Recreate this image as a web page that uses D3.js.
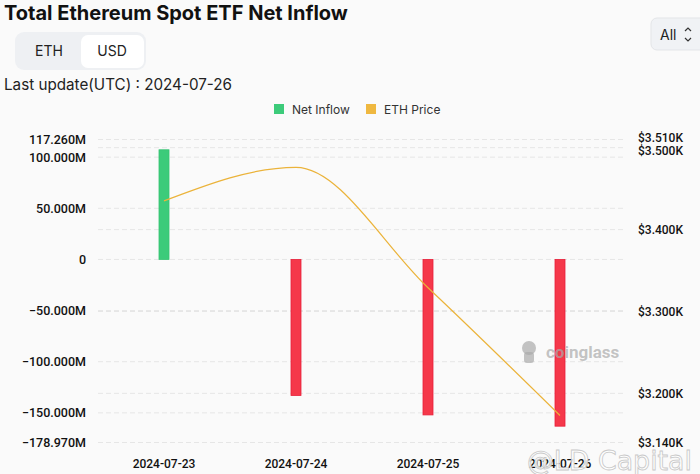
<!DOCTYPE html>
<html>
<head>
<meta charset="utf-8">
<script src="https://cdn.jsdelivr.net/npm/d3@7"></script>
<style>
  html, body { margin: 0; padding: 0; background: #fafafa; }
  svg { display: block; font-family: Inter, "Noto Sans", sans-serif; }
</style>
</head>
<body>
<svg id="chart" width="700" height="474"></svg>
<script>
// data
const dates = ['2024-07-23', '2024-07-24', '2024-07-25', '2024-07-26'];
const netInflow = [107.2, -133.0, -152.0, -163.0];      // million USD
const ethPrice = [3435, 3476, 3329, 3173];               // USD
const leftTicks = [117.26, 100, 50, 0, -50, -100, -150, -178.97];
const rightTicks = [3510, 3500, 3400, 3300, 3200, 3140];

const W = 700, H = 474;
const plot = { left: 98, right: 626, top: 139.5, bottom: 442.5 };

const svg = d3.select('#chart');

svg.append('rect').attr('width', W).attr('height', H).attr('fill', '#fafafa');

// header
svg.append('text')
  .attr('x', 4).attr('y', 20)
  .attr('font-size', 20).attr('font-weight', 700).attr('fill', '#111')
  .text('Total Ethereum Spot ETF Net Inflow');

const toggle = svg.append('g');
toggle.append('rect').attr('x', 15).attr('y', 32).attr('width', 131).attr('height', 38)
  .attr('rx', 9).attr('fill', '#eef0f3');
toggle.append('rect').attr('x', 81).attr('y', 35).attr('width', 63).attr('height', 33)
  .attr('rx', 7).attr('fill', '#ffffff');
toggle.append('text').attr('x', 49).attr('y', 56).attr('text-anchor', 'middle')
  .attr('font-size', 14).attr('fill', '#222').text('ETH');
toggle.append('text').attr('x', 112).attr('y', 56).attr('text-anchor', 'middle')
  .attr('font-size', 14).attr('fill', '#222').text('USD');

svg.append('text').attr('x', 4).attr('y', 90)
  .attr('font-size', 15.5).attr('fill', '#222')
  .attr('textLength', 228).attr('lengthAdjust', 'spacingAndGlyphs')
  .text('Last update(UTC) : 2024-07-26');

// "All" select box
svg.append('rect').attr('x', 651).attr('y', 18).attr('width', 56).attr('height', 32)
  .attr('rx', 6).attr('fill', '#f0f2f5').attr('stroke', '#e3e5e8');
svg.append('text').attr('x', 660).attr('y', 40).attr('font-size', 14).attr('fill', '#222').text('All');
svg.append('path').attr('d', 'M685,31 l3,-3 l3,3 M685,38 l3,3 l3,-3')
  .attr('fill', 'none').attr('stroke', '#333').attr('stroke-width', 1.2);

// legend
const legend = [
  { label: 'Net Inflow', color: '#3ccb7a', x: 274 },
  { label: 'ETH Price', color: '#efb840', x: 366 }
];
legend.forEach(d => {
  svg.append('rect').attr('x', d.x).attr('y', 104).attr('width', 10).attr('height', 10)
    .attr('fill', d.color);
  svg.append('text').attr('x', d.x + 18).attr('y', 113.5)
    .attr('font-size', 12).attr('fill', '#333').text(d.label);
});

// scales
const x = d3.scaleBand().domain(dates).range([plot.left, plot.right]);
const yLeft = d3.scaleLinear().domain([-178.97, 117.26]).range([plot.bottom, plot.top]);
const yRight = d3.scaleLinear().domain([3140, 3510]).range([plot.bottom, plot.top]);

// grid lines from both axes
const grid = svg.append('g');
leftTicks.forEach(t => grid.append('line')
  .attr('x1', plot.left).attr('x2', plot.right)
  .attr('y1', yLeft(t)).attr('y2', yLeft(t)));
rightTicks.forEach(t => grid.append('line')
  .attr('x1', plot.left).attr('x2', plot.right)
  .attr('y1', yRight(t)).attr('y2', yRight(t)));
grid.selectAll('line').attr('stroke', '#e6e6e6').attr('stroke-dasharray', '5,3');

// axes
const fmtM = v => v === 0 ? '0' : d3.format('.3f')(v) + 'M';
const fmtK = v => '$' + d3.format('.3f')(v / 1000) + 'K';

const axisL = svg.append('g').attr('transform', `translate(${plot.left - 9},0)`)
  .call(d3.axisLeft(yLeft).tickValues(leftTicks).tickFormat(fmtM).tickSize(0));
const axisR = svg.append('g').attr('transform', `translate(${plot.right + 9},0)`)
  .call(d3.axisRight(yRight).tickValues(rightTicks).tickFormat(fmtK).tickSize(0));
const axisB = svg.append('g').attr('transform', `translate(0,${plot.bottom + 14})`)
  .call(d3.axisBottom(x).tickSize(0));

[axisL, axisR, axisB].forEach(a => {
  a.select('.domain').remove();
  a.selectAll('text').attr('font-family', 'Roboto, "DejaVu Sans", sans-serif')
    .attr('font-size', 12).attr('font-weight', 500).attr('fill', '#111');
});
axisL.selectAll('text').attr('dx', 0).attr('font-size', 12.5);
axisR.selectAll('text').attr('dx', 0);
// top right labels sit a bit apart in the original
axisR.selectAll('.tick').filter(d => d === 3510).select('text').attr('dy', '0.2em');
axisR.selectAll('.tick').filter(d => d === 3500).select('text').attr('dy', '0.6em');

// bars
const barW = 10;
svg.append('g').selectAll('rect')
  .data(netInflow)
  .enter().append('rect')
  .attr('x', (d, i) => x(dates[i]) + x.bandwidth() / 2 - barW / 2)
  .attr('y', d => yLeft(Math.max(0, d)))
  .attr('width', barW)
  .attr('height', d => Math.abs(yLeft(d) - yLeft(0)))
  .attr('fill', d => d >= 0 ? '#3ccb7a' : '#f5384a')
  .attr('stroke', d => d >= 0 ? '#36c472' : '#e8203a')
  .attr('stroke-width', 0.8);

// coinglass watermark, drawn over the bars
const wm = svg.append('g').attr('fill', 'rgba(170,170,170,0.7)');
wm.append('circle').attr('cx', 529).attr('cy', 348).attr('r', 7);
wm.append('rect').attr('x', 524).attr('y', 352).attr('width', 10).attr('height', 11).attr('rx', 3);
wm.append('text').attr('x', 546).attr('y', 358).attr('font-size', 17).attr('font-weight', 700)
  .attr('font-family', 'Roboto, sans-serif').text('coinglass');

// price line
const line = d3.line()
  .x((d, i) => x(dates[i]) + x.bandwidth() / 2)
  .y(d => yRight(d))
  .curve(d3.curveMonotoneX);
svg.append('path').datum(ethPrice)
  .attr('d', line)
  .attr('fill', 'none')
  .attr('stroke', '#ebb33a')
  .attr('stroke-width', 1.2);

// LD Capital watermark
svg.append('text').attr('x', 527).attr('y', 470)
  .attr('font-size', 26).attr('font-family', '"DejaVu Sans", sans-serif')
  .attr('textLength', 165).attr('lengthAdjust', 'spacingAndGlyphs')
  .attr('fill', 'rgba(255,255,255,0.85)').attr('stroke', '#c8c8c8').attr('stroke-width', 0.8)
  .text('@LD Capital');
</script>
</body>
</html>
